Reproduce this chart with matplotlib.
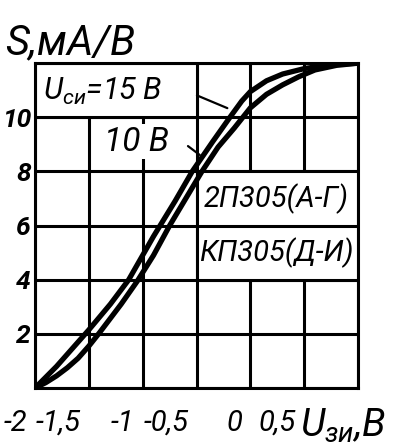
import matplotlib
matplotlib.use("Agg")
import matplotlib.pyplot as plt
from matplotlib.patches import Rectangle
from matplotlib.transforms import ScaledTranslation

# gate voltage U_зи (V) vs transconductance S (mA/V)
u_15 = [-2.0, -1.9, -1.8, -1.7, -1.6, -1.5, -1.3, -1.13, -0.9, -0.7, -0.54, -0.35,
        -0.19, -0.08, 0.0, 0.15, 0.3, 0.5, 0.75, 1.0]
s_15 = [0.0, 0.4, 0.8, 1.25, 1.7, 2.15, 3.1, 4.0, 5.6, 6.9, 8.0, 9.1,
        10.0, 10.6, 10.95, 11.35, 11.6, 11.8, 11.95, 12.0]
u_10 = [-2.0, -1.9, -1.8, -1.7, -1.6, -1.5, -1.4, -1.2, -1.05, -0.9, -0.75, -0.6,
        -0.45, -0.3, -0.15, -0.07, 0.0, 0.15, 0.3, 0.45, 0.6, 0.8, 1.0]
s_10 = [0.0, 0.2, 0.45, 0.75, 1.1, 1.55, 2.05, 3.1, 3.95, 4.9, 6.0, 7.0,
        8.0, 8.9, 9.6, 10.0, 10.35, 10.85, 11.2, 11.5, 11.75, 11.92, 12.0]

x_ticks = [-2, -1.5, -1, -0.5, 0, 0.5, 1.0]
x_labels = ["-2", "-1,5", "-1", "-0,5", "0", "0,5", ""]
y_ticks = [0, 2, 4, 6, 8, 10, 12]
y_labels = ["", "2", "4", "6", "8", "10", ""]

plt.rcParams['font.family'] = ['Roboto', 'DejaVu Sans']
plt.rcParams['font.style'] = 'italic'
plt.rcParams['mathtext.fontset'] = 'custom'
plt.rcParams['mathtext.it'] = 'Roboto:italic'
plt.rcParams['mathtext.rm'] = 'Roboto:italic'

fig = plt.figure(figsize=(4.12, 4.45), dpi=100)
ax = fig.add_axes([0.085, 0.128, 0.784, 0.730])

lw_grid = 2.2
ax.set_xlim(-2, 1.0)
ax.set_ylim(0, 12)
ax.set_xticks(x_ticks)
ax.set_xticklabels(x_labels, fontsize=21)
ax.set_yticks(y_ticks)
ax.set_yticklabels(y_labels, fontsize=19, fontweight='bold')
ax.tick_params(axis='x', length=0, pad=15)
ax.tick_params(axis='y', length=0, pad=3)
shift = ScaledTranslation(-8 / 100, 0, fig.dpi_scale_trans)
for lab in ax.get_xticklabels():
    lab.set_ha('right')
    lab.set_transform(lab.get_transform() + shift)
ax.set_axisbelow(True)
ax.grid(True, color='black', linewidth=lw_grid)
for sp in ax.spines.values():
    sp.set_linewidth(lw_grid)

# label boxes that cover the grid
ax.add_patch(Rectangle((-2, 10), 1.5, 2, facecolor='white', edgecolor='black',
                       linewidth=lw_grid, zorder=2))
ax.add_patch(Rectangle((-0.5, 4), 1.5, 4, facecolor='white', edgecolor='black',
                       linewidth=lw_grid, zorder=2))
ax.hlines(6, -0.5, 1.0, color='black', linewidth=lw_grid, zorder=2)

ax.plot(u_15, s_15, color='black', linewidth=3.8, zorder=3, solid_capstyle='round')
ax.plot(u_10, s_10, color='black', linewidth=3.8, zorder=3, solid_capstyle='round')

ax.text(-1.93, 10.95, r"$U_{си}$=15 В", fontsize=22, va='center', ha='left', zorder=4)
ax.annotate("", xy=(u_15[12], s_15[12] + 0.3), xytext=(-0.52, 10.85),
            arrowprops=dict(arrowstyle='-', color='black', lw=1.6), zorder=4)
ax.text(-1.36, 9.1, "10 В", fontsize=24, va='center', ha='left', zorder=4,
        bbox=dict(facecolor='white', edgecolor='none', pad=1))
ax.annotate("", xy=(-0.45, 8.55), xytext=(-0.6, 9.0),
            arrowprops=dict(arrowstyle='-', color='black', lw=1.6), zorder=4)

ax.text(0.24, 7.0, "2П305(А-Г)", fontsize=21, va='center', ha='center', zorder=4)
ax.text(0.24, 5.0, "КП305(Д-И)", fontsize=21, va='center', ha='center', zorder=4)

fig.text(0.012, 0.878, "S,мА/В", fontsize=30, ha='left', va='baseline')
ax.text(0.82, -0.115, r"$U_{зи}$,В", transform=ax.transAxes, fontsize=28,
        ha='left', va='center')

fig.savefig("out.png", dpi=100)
